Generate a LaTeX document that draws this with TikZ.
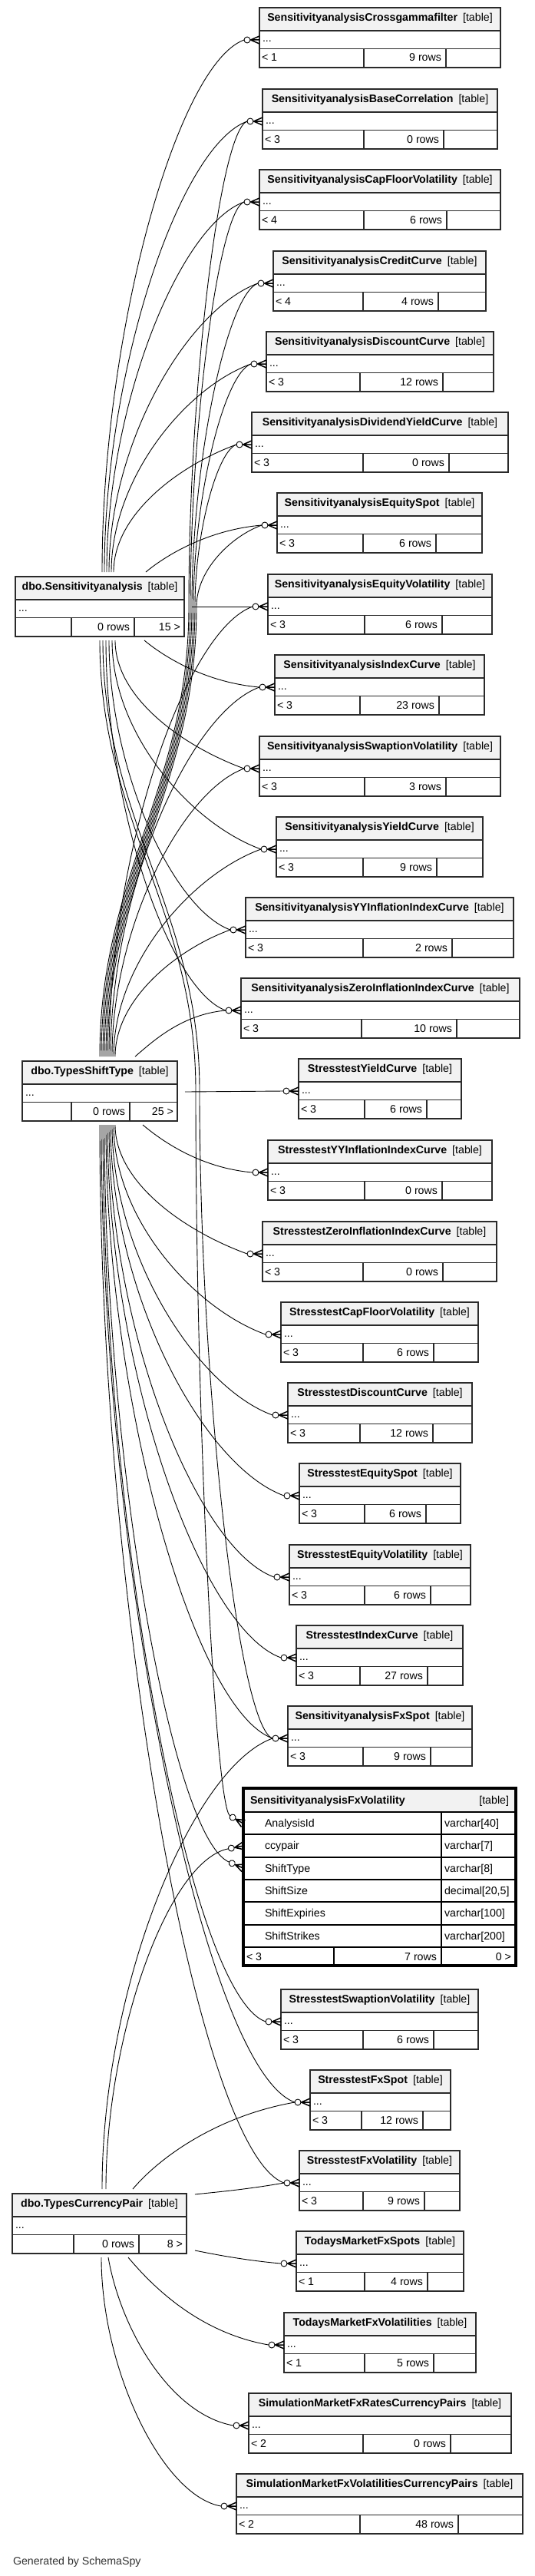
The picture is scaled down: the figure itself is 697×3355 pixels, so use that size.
\documentclass[tikz,border=0pt]{standalone}
\usepackage{fontspec}
\setmainfont{Liberation Sans}
\usetikzlibrary{calc}
\definecolor{hdrgray}{HTML}{F2F2F2}
\definecolor{bordc}{HTML}{2A2A2A}
\pgfdeclarelayer{back}
\pgfdeclarelayer{edges}
\pgfsetlayers{back,edges,main}
\tikzset{
  tbline/.style={draw=bordc, line width=1.3bp},
  focusinner/.style={draw=black, line width=1.8bp},
  focusline/.style={draw=black, line width=3.2bp},
  fkline/.style={draw=black, line width=0.9bp},
  crowline/.style={draw=black, line width=1.5bp},
  txt/.style={inner sep=0pt, outer sep=0pt, font=\fontsize{14.2bp}{17bp}\selectfont, text=black},
  crowodot/.pic={
    \draw[crowline] (0,-5) -- (-11.5,0) -- (0,5) (-11.5,0) -- (0,0);
    \draw[fkline, fill=white] (-16,0) circle[radius=4bp];
  }
}
% table: name, L, T, R, d1, d2, title, parents text, rows text
\newcommand\tbl[9]{%
  \fill[hdrgray] (#2,#3) rectangle (#4,#3+30);
  \draw[tbline] (#2,#3+30) -- (#4,#3+30) (#2,#3+53.5) -- (#4,#3+53.5)
                (#5,#3+53.5) -- (#5,#3+78) (#6,#3+53.5) -- (#6,#3+78);
  \draw[tbline] (#2,#3) rectangle (#4,#3+78);
  \node[txt, anchor=base] (#1) at ({(#2+#4)/2},#3+17.5) {\textbf{#7}\hspace{7bp}[table]};
  \node[txt, anchor=base west] (#1-dots) at (#2+4,#3+45) {...};
  \node[txt, anchor=base west] (#1-par) at (#2+3,#3+70) {#8};
  \node[txt, anchor=base east] (#1-rows) at (#6-6,#3+70) {#9};
}
\newcommand\ctbl[9]{%
  \tbl{#1}{#2}{#3}{#4}{#5}{#6}{#7}{#8}{#9}
  \coordinate (#1-p) at (#2,#3+42);
  \coordinate (#1-e) at (#2-20,#3+42);
  \pic at (#1-p) {crowodot};
}
% foreign key edge: start, end, out angle, in angle
\newcommand\fk[4]{%
  \draw[fkline] let \p1=(#1), \p2=(#2), \n1={0.45*abs(\y2-(\y1))}, \n2={0.5*abs(\x2-(\x1))} in
    (#1) .. controls ($(#1)+(#3:\n1)$) and ($(#2)+(#4:\n2)$) .. (#2);
}
% edge through a waypoint
\newcommand\fkw[7]{%
  \draw[fkline] let \p1=(#1), \p2=(#2), \p3=(#3),
    \n1={0.4*abs(\y2-(\y1))}, \n2={0.45*abs(\y3-(\y2))}, \n3={0.5*abs(\x3-(\x2))} in
    (#1) .. controls ($(#1)+(#4:\n1)$) and ($(#2)+(#5:\n1)$) .. (#2)
    .. controls ($(#2)+(#6:\n2)$) and ($(#3)+(#7:\n3)$) .. (#3);
}
\begin{document}
\begin{tikzpicture}[x=1bp,y=-1bp]
\begin{pgfonlayer}{back}
  \fill[white] (0,0) rectangle (697,3355);
\end{pgfonlayer}
\useasboundingbox (0,0) rectangle (697,3355);

% ---------- child tables ----------
\ctbl{ca}{338}{10}{652}{474}{581}{SensitivityanalysisCrossgammafilter}{< 1}{9 rows}
\ctbl{cb}{342}{116}{648}{474}{578}{SensitivityanalysisBaseCorrelation}{< 3}{0 rows}
\ctbl{cc}{338}{221}{652}{474}{582}{SensitivityanalysisCapFloorVolatility}{< 4}{6 rows}
\ctbl{cd}{356}{327}{633}{473}{571}{SensitivityanalysisCreditCurve}{< 4}{4 rows}
\ctbl{ce}{347}{432}{643}{469}{577}{SensitivityanalysisDiscountCurve}{< 3}{12 rows}
\ctbl{cf}{328}{537}{662}{473}{585}{SensitivityanalysisDividendYieldCurve}{< 3}{0 rows}
\ctbl{cg}{361}{642}{628}{473}{568}{SensitivityanalysisEquitySpot}{< 3}{6 rows}
\ctbl{ch}{349}{748}{641}{475}{576}{SensitivityanalysisEquityVolatility}{< 3}{6 rows}
\ctbl{ci}{358}{853}{631}{469}{572}{SensitivityanalysisIndexCurve}{< 3}{23 rows}
\ctbl{cj}{338}{959}{652}{475}{581}{SensitivityanalysisSwaptionVolatility}{< 3}{3 rows}
\ctbl{ck}{360}{1064}{629}{473}{569}{SensitivityanalysisYieldCurve}{< 3}{9 rows}
\ctbl{cl}{320}{1169}{669}{473}{589}{SensitivityanalysisYYInflationIndexCurve}{< 3}{2 rows}
\ctbl{cm}{314}{1274}{677}{471}{595}{SensitivityanalysisZeroInflationIndexCurve}{< 3}{10 rows}
\ctbl{sa}{389}{1379}{601}{475}{556}{StresstestYieldCurve}{< 3}{6 rows}
\ctbl{sb}{349}{1485}{641}{475}{576}{StresstestYYInflationIndexCurve}{< 3}{0 rows}
\ctbl{sc}{342}{1591}{647}{473}{577}{StresstestZeroInflationIndexCurve}{< 3}{0 rows}
\ctbl{sd}{366}{1696}{623}{473}{565}{StresstestCapFloorVolatility}{< 3}{6 rows}
\ctbl{se}{375}{1801}{615}{469}{564}{StresstestDiscountCurve}{< 3}{12 rows}
\ctbl{sf}{390}{1906}{600}{475}{555}{StresstestEquitySpot}{< 3}{6 rows}
\ctbl{sg}{377}{2012}{613}{475}{561}{StresstestEquityVolatility}{< 3}{6 rows}
\ctbl{sh}{386}{2117}{603}{469}{557}{StresstestIndexCurve}{< 3}{27 rows}
\ctbl{fs}{375}{2222}{615}{473}{561}{SensitivityanalysisFxSpot}{< 3}{9 rows}
\ctbl{si}{366}{2591}{623}{473}{565}{StresstestSwaptionVolatility}{< 3}{6 rows}
\ctbl{sj}{404}{2696}{587}{471}{551}{StresstestFxSpot}{< 3}{12 rows}
\ctbl{sk}{390}{2801}{599}{473}{553}{StresstestFxVolatility}{< 3}{9 rows}
\ctbl{tma}{386}{2906}{604}{475}{557}{TodaysMarketFxSpots}{< 1}{4 rows}
\ctbl{tmb}{370}{3012}{620}{475}{565}{TodaysMarketFxVolatilities}{< 1}{5 rows}
\ctbl{sma}{324}{3117}{666}{473}{587}{SimulationMarketFxRatesCurrencyPairs}{< 2}{0 rows}
\ctbl{smb}{308}{3222}{681}{469}{597}{SimulationMarketFxVolatilitiesCurrencyPairs}{< 2}{48 rows}

% ---------- parent tables ----------
\tbl{sens}{20}{751}{240}{93}{175}{dbo.Sensitivityanalysis}{}{0 rows}
\node[txt, anchor=base east] (sens-out) at (235,821) {15 >};
\tbl{sst}{29}{1382}{231}{93}{169}{dbo.TypesShiftType}{}{0 rows}
\node[txt, anchor=base east] (sst-out) at (226,1452) {25 >};
\tbl{scp}{16}{2857}{243}{96}{181}{dbo.TypesCurrencyPair}{}{0 rows}
\node[txt, anchor=base east] (scp-out) at (238,2927) {8 >};

% ---------- focus table ----------
\fill[hdrgray] (317,2329) rectangle (672,2360);
\draw[focusinner] (317,2360) -- (672,2360) (317,2389.3) -- (672,2389.3)
  (317,2418.7) -- (672,2418.7) (317,2448) -- (672,2448) (317,2477.3) -- (672,2477.3)
  (317,2506.7) -- (672,2506.7) (317,2536) -- (672,2536)
  (575,2360) -- (575,2560) (435,2536) -- (435,2560);
\draw[focusline] (317,2329) rectangle (672,2560);
\node[txt, anchor=base west] (fv) at (326,2349) {\textbf{SensitivityanalysisFxVolatility}};
\node[txt, anchor=base east] (fv-tag) at (663,2349) {[table]};
\node[txt, anchor=base west] (fv-n1) at (345,2379.5) {AnalysisId};
\node[txt, anchor=base west] (fv-n2) at (345,2408.8) {ccypair};
\node[txt, anchor=base west] (fv-n3) at (345,2438.2) {ShiftType};
\node[txt, anchor=base west] (fv-n4) at (345,2467.5) {ShiftSize};
\node[txt, anchor=base west] (fv-n5) at (345,2496.8) {ShiftExpiries};
\node[txt, anchor=base west] (fv-n6) at (345,2526.2) {ShiftStrikes};
\node[txt, anchor=base west] (fv-t1) at (579,2379.5) {varchar[40]};
\node[txt, anchor=base west] (fv-t2) at (579,2408.8) {varchar[7]};
\node[txt, anchor=base west] (fv-t3) at (579,2438.2) {varchar[8]};
\node[txt, anchor=base west] (fv-t4) at (579,2467.5) {decimal[20,5]};
\node[txt, anchor=base west] (fv-t5) at (579,2496.8) {varchar[100]};
\node[txt, anchor=base west] (fv-t6) at (579,2526.2) {varchar[200]};
\node[txt, anchor=base west] (fv-par) at (321,2553) {< 3};
\node[txt, anchor=base east] (fv-rows) at (569,2553) {7 rows};
\node[txt, anchor=base east] (fv-out) at (666,2553) {0 >};
\coordinate (fv-a) at (317,2375);
\coordinate (fv-c) at (317,2404);
\coordinate (fv-s) at (317,2433);
\pic[rotate=-30] at (fv-a) {crowodot};
\pic[rotate=11] at (fv-c) {crowodot};
\pic[rotate=-23] at (fv-s) {crowodot};
\coordinate (fv-ae) at (299.7,2365);
\coordinate (fv-ce) at (297.4,2407.8);
\coordinate (fv-se) at (298.6,2425.2);

% ---------- exit points ----------
\coordinate (Su1) at (133,745);
\coordinate (Su2) at (136,745);
\coordinate (Su3) at (139,745);
\coordinate (Su4) at (142,745);
\coordinate (Su5) at (145,745);
\coordinate (Su6) at (148,745);
\coordinate (Su7) at (190,745);
\coordinate (Sr) at (250,790);
\coordinate (Sd1) at (188,834);
\coordinate (Sd2) at (150,834);
\coordinate (Sd3) at (146,834);
\coordinate (Sd4) at (142,834);
\coordinate (Sd5) at (138,834);
\coordinate (Sd6) at (134,834);
\coordinate (Sd7) at (130,834);
\coordinate (Sw6) at (260,1420);
\coordinate (Sw7) at (255,1420);

\coordinate (Tu2) at (130,1376);
\coordinate (Tu3) at (132,1376);
\coordinate (Tu4) at (134,1376);
\coordinate (Tu5) at (136,1376);
\coordinate (Tu6) at (138,1376);
\coordinate (Tu7) at (140,1376);
\coordinate (Tu8) at (142,1376);
\coordinate (Tu9) at (144,1376);
\coordinate (Tu10) at (146,1376);
\coordinate (Tu11) at (148,1376);
\coordinate (Tu12) at (150,1376);
\coordinate (Tu13) at (176,1376);
\coordinate (Tw2) at (246,790);
\coordinate (Tw3) at (248,790);
\coordinate (Tw4) at (250,790);
\coordinate (Tw5) at (252,790);
\coordinate (Tw6) at (254,790);
\coordinate (Tw7) at (256,790);
\coordinate (Tr) at (241,1422);
\coordinate (Td1) at (186,1465);
\coordinate (Td2) at (150,1465);
\coordinate (Td3) at (148,1465);
\coordinate (Td4) at (146,1465);
\coordinate (Td5) at (144,1465);
\coordinate (Td6) at (142,1465);
\coordinate (Td7) at (140,1465);
\coordinate (Td8) at (138,1465);
\coordinate (Td9) at (136,1465);
\coordinate (Td10) at (134,1465);
\coordinate (Td11) at (132,1465);
\coordinate (Td12) at (130,1465);

\coordinate (Cu1) at (133,2851);
\coordinate (Cu2) at (138,2851);
\coordinate (Cu3) at (173,2851);
\coordinate (Cr1) at (254,2858);
\coordinate (Cr2) at (254,2931);
\coordinate (Cd1) at (167,2940);
\coordinate (Cd2) at (141,2940);
\coordinate (Cd3) at (132,2940);

% ---------- connectors ----------
\begin{pgfonlayer}{edges}
% dbo.Sensitivityanalysis
\fk{Su1}{ca-e}{90}{200}
\fk{Su2}{cb-e}{90}{200}
\fk{Su3}{cc-e}{90}{200}
\fk{Su4}{cd-e}{90}{200}
\fk{Su5}{ce-e}{90}{200}
\fk{Su6}{cf-e}{90}{200}
\fk{Su7}{cg-e}{40}{185}
\draw[fkline] (Sr) -- (ch-e);
\fk{Sd1}{ci-e}{-40}{175}
\fk{Sd2}{cj-e}{-90}{160}
\fk{Sd3}{ck-e}{-90}{160}
\fk{Sd4}{cl-e}{-90}{160}
\fk{Sd5}{cm-e}{-90}{160}
\fkw{Sd6}{Sw6}{fs-e}{-90}{90}{-90}{160}
\fkw{Sd7}{Sw7}{fv-ae}{-90}{90}{-90}{150}
% dbo.TypesShiftType
\fkw{Tu2}{Tw2}{cb-e}{90}{-90}{90}{200}
\fkw{Tu3}{Tw3}{cc-e}{90}{-90}{90}{200}
\fkw{Tu4}{Tw4}{cd-e}{90}{-90}{90}{200}
\fkw{Tu5}{Tw5}{ce-e}{90}{-90}{90}{200}
\fkw{Tu6}{Tw6}{cf-e}{90}{-90}{90}{200}
\fkw{Tu7}{Tw7}{cg-e}{90}{-90}{90}{200}
\fk{Tu8}{ch-e}{90}{200}
\fk{Tu9}{ci-e}{90}{200}
\fk{Tu10}{cj-e}{90}{200}
\fk{Tu11}{ck-e}{90}{200}
\fk{Tu12}{cl-e}{90}{200}
\fk{Tu13}{cm-e}{40}{185}
\draw[fkline] (Tr) -- (sa-e);
\fk{Td1}{sb-e}{-40}{175}
\fk{Td2}{sc-e}{-90}{160}
\fk{Td3}{sd-e}{-90}{160}
\fk{Td4}{se-e}{-90}{160}
\fk{Td5}{sf-e}{-90}{160}
\fk{Td6}{sg-e}{-90}{160}
\fk{Td7}{sh-e}{-90}{160}
\fk{Td8}{fs-e}{-90}{160}
\fk{Td9}{fv-se}{-90}{157}
\fk{Td10}{si-e}{-90}{160}
\fk{Td11}{sj-e}{-90}{160}
\fk{Td12}{sk-e}{-90}{160}
% dbo.TypesCurrencyPair
\fk{Cu1}{fs-e}{90}{200}
\fk{Cu2}{fv-ce}{90}{191}
\fk{Cu3}{sj-e}{50}{190}
\fk{Cr1}{sk-e}{10}{190}
\fk{Cr2}{tma-e}{-10}{175}
\fk{Cd1}{tmb-e}{-50}{170}
\fk{Cd2}{sma-e}{-80}{170}
\fk{Cd3}{smb-e}{-90}{170}
\end{pgfonlayer}

\node[txt, anchor=base west, text=black!80] (gen) at (17,3340) {Generated by SchemaSpy};
\end{tikzpicture}
\end{document}
